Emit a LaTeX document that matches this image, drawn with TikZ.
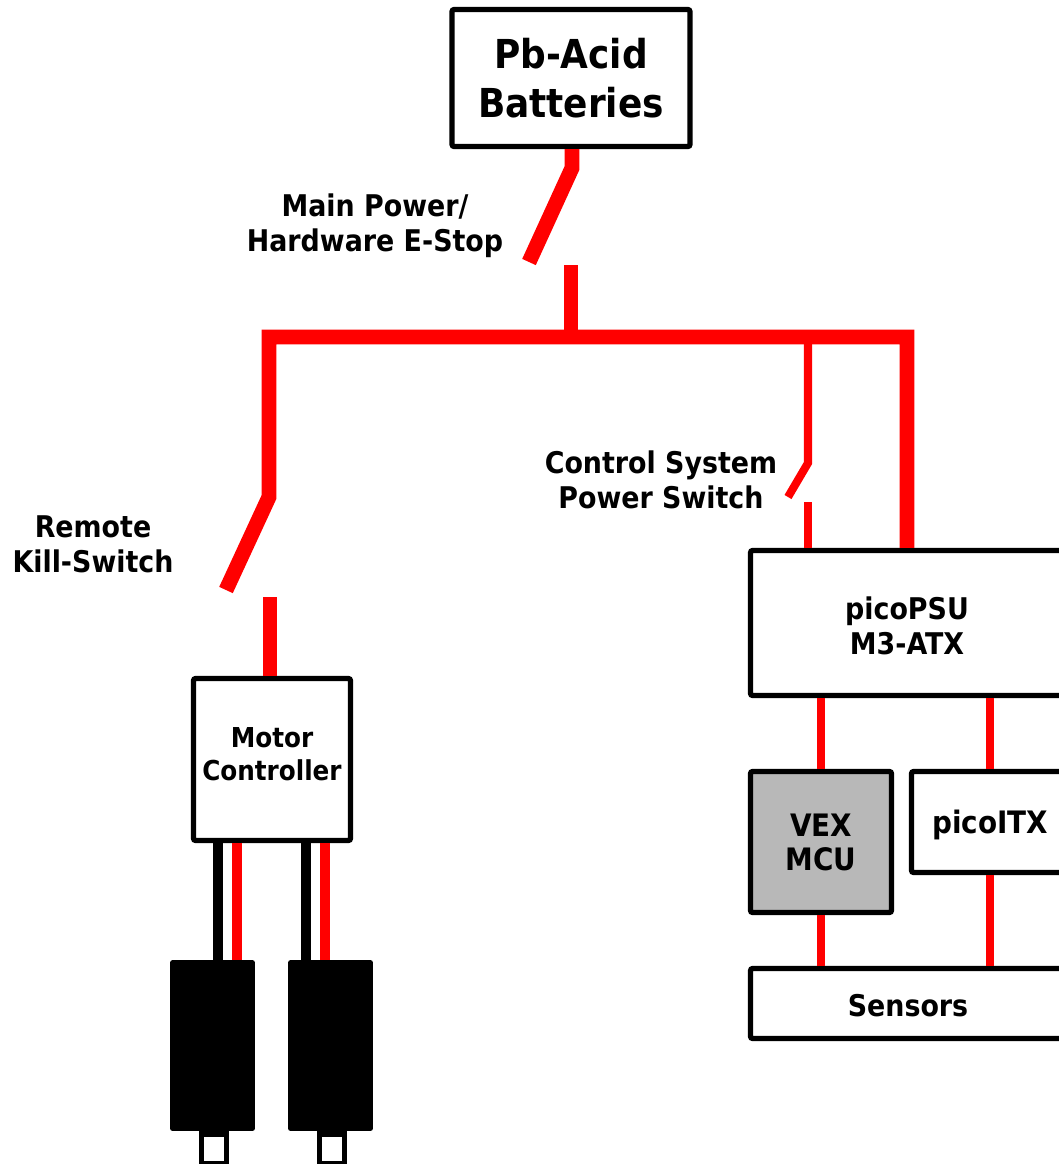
\documentclass[tikz,border=0pt]{standalone}
\usepackage{fontspec}
\setmainfont{DejaVu Sans Condensed}
\usepackage{tikz}
\definecolor{mred}{rgb}{1, 0, 0}
\definecolor{mgrey}{rgb}{0.72, 0.72, 0.72}
\newcommand{\nudged}[2]{\raisebox{#1}[\height][\depth]{#2}}
\tikzset{box/.style = {draw, line width=3pt, rounded corners=1.2pt, align=center, inner sep=0pt,
                       font=\fontsize{17}{20}\selectfont\bfseries},
         tag/.style = {align=center, inner sep=0pt, font=\fontsize{17}{20}\selectfont\bfseries},
         motorbox/.style = {draw, fill=black, line width=0.5pt, rounded corners=1.2pt,
                            minimum width=1.68cm, minimum height=3.4cm, inner sep=0pt},
         shaftbox/.style = {draw, fill=white, line width=3pt, minimum width=0.51cm,
                            minimum height=0.6cm, inner sep=0pt},
         wirefat/.style = {mred, line width=8.5pt},
         wirethin/.style = {mred, line width=4.6pt},
         wirered/.style = {mred, line width=5.7pt},
         wireblack/.style = {black, line width=5.7pt}}

\begin{document}
\begin{tikzpicture}[x=0.02cm, y=-0.02cm]
      \useasboundingbox (0, 0) rectangle (1059, 1164);
      \clip (0, 0) rectangle (1059, 1164);

      % blocks
      \node [box, minimum width=4.76cm, minimum height=2.74cm, font=\fontsize{22.7}{27.8}\selectfont\bfseries] (batt) at (571, 78) {Pb-Acid\\Batteries};
      \node [box, minimum width=6.26cm, minimum height=2.9cm] (psu) at (907, 623) {\nudged{-1.7pt}{picoPSU}\\\nudged{-1.7pt}{M3-ATX}};
      \node [box, minimum width=2.82cm, minimum height=2.82cm, fill=mgrey, font=\fontsize{17.6}{19.4}\selectfont\bfseries] (vex) at (821, 842) {VEX\\MCU};
      \node [box, minimum width=3.14cm, minimum height=2.02cm, font=\fontsize{17.6}{20}\selectfont\bfseries] (itx) at (990, 822) {\nudged{-1.7pt}{picoITX}};
      \node [box, minimum width=6.3cm, minimum height=1.4cm] (sensors) at (908, 1003.5) {\nudged{-1pt}{Sensors}};
      \node [box, minimum width=3.14cm, minimum height=3.24cm, font=\fontsize{15.6}{18.7}\selectfont\bfseries] (mctl) at (272, 759.5) {\nudged{2.8pt}{Motor}\\\nudged{2.8pt}{Controller}};

      % motors
      \node [shaftbox] (shaftL) at (214, 1149) {};
      \node [shaftbox] (shaftR) at (332, 1149) {};
      \node [motorbox] (motorL) at (212.5, 1045.5) {};
      \node [motorbox] (motorR) at (330.5, 1045.5) {};

      % labels
      \node [tag] (mainlabel) at (375, 226) {Main Power/\\Hardware E-Stop};
      \node [tag] (ctrllabel) at (661, 480) {Control System\\Power Switch};
      \node [tag] (killlabel) at (93, 544) {Remote\\Kill-Switch};

      % switch points
      \coordinate (mainhinge) at (572, 168);
      \coordinate (maintip) at (529, 262);
      \coordinate (mainpost) at (571, 265);
      \coordinate (busmid) at (571, 337);
      \coordinate (killhinge) at (269, 497);
      \coordinate (killtip) at (226, 590);
      \coordinate (killpost) at (270, 597);
      \coordinate (ctrlbus) at (808, 337);
      \coordinate (ctrlhinge) at (808, 463);
      \coordinate (ctrltip) at (788, 497);
      \coordinate (ctrlpost) at (808, 502);

      % power wiring
      \draw [wirefat] (batt.south -| mainhinge) -- (mainhinge) -- (maintip);
      \draw [wirefat] (mainpost) -- (busmid);
      \draw [wirefat] (killtip) -- (killhinge) -- (269, 337) -- (907, 337) -- (psu.north);
      \draw [wirefat] (killpost) -- (mctl.north -| killpost);
      \draw [wirethin] (ctrlbus) -- (ctrlhinge) -- (ctrltip);
      \draw [wirethin] (ctrlpost) -- (psu.north -| ctrlpost);
      \draw [wirethin] (psu.south -| vex.north) -- (vex.north);
      \draw [wirethin] (vex.south) -- (sensors.north -| vex.south);
      \draw [wirethin] (psu.south -| itx.north) -- (itx.north);
      \draw [wirethin] (itx.south) -- (sensors.north -| itx.south);

      % motor leads
      \foreach \motorname/\blackx/\redx in {motorL/218/237, motorR/306/325} {
        \draw [wireblack] (\blackx, 843) -- (\motorname.north -| \blackx, 843);
        \draw [wirered] (\redx, 843) -- (\motorname.north -| \redx, 843);
      }
    \end{tikzpicture}
\end{document}
